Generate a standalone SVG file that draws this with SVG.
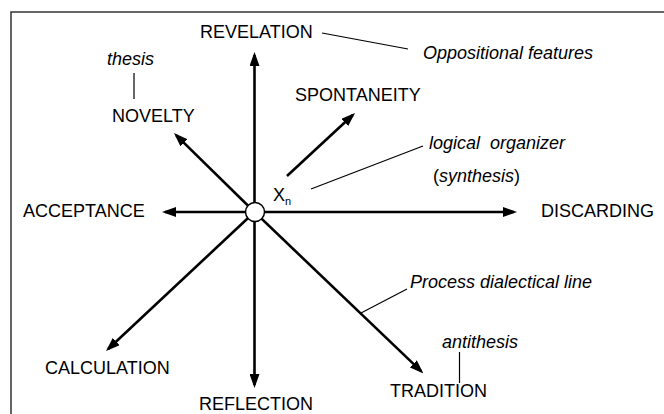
<svg xmlns="http://www.w3.org/2000/svg" width="664" height="414" viewBox="0 0 664 414">
<style>
text{font-family:"Liberation Sans",Arial,sans-serif;font-size:18px;fill:#000}
.it{font-style:italic}
.pre{white-space:pre}
.ar{stroke:#000;stroke-width:2.6;fill:none;marker-end:url(#ah)}
.ld{stroke:#000;stroke-width:1.2;fill:none}
</style>
<defs>
<marker id="ah" viewBox="0 0 14 10" refX="11" refY="5" markerWidth="14" markerHeight="10" markerUnits="userSpaceOnUse" orient="auto">
<path d="M0,0 L14,5 L0,10 Z" fill="#000"/>
</marker>
</defs>
<rect x="11" y="12" width="680" height="440" fill="#fff" stroke="#333" stroke-width="1.5"/>
<g id="connectors">
<line class="ar" x1="254.5" y1="212" x2="254.5" y2="55"/>
<line class="ar" x1="254.5" y1="212" x2="254.5" y2="385"/>
<line class="ar" x1="254.5" y1="212" x2="165" y2="212"/>
<line class="ar" x1="254.5" y1="212" x2="514" y2="212"/>
<line class="ar" x1="254.5" y1="212" x2="176.1" y2="135.1"/>
<line class="ar" x1="254.5" y1="212" x2="108.2" y2="349"/>
<line class="ar" x1="254.5" y1="212" x2="421.3" y2="371.4"/>
<line class="ar" x1="287" y1="176" x2="352.8" y2="115"/>
<line class="ld" x1="322" y1="33" x2="408" y2="49"/>
<line class="ld" x1="311" y1="189" x2="423" y2="146"/>
<line class="ld" x1="361" y1="313" x2="407" y2="289"/>
<line class="ld" x1="134" y1="73" x2="134" y2="99"/>
<line class="ld" x1="459.5" y1="352" x2="459.5" y2="383"/>
</g>
<g id="center">
<circle cx="255" cy="212" r="9.5" fill="#fff" stroke="#000" stroke-width="1.5"/>
<text x="273" y="201">X<tspan font-size="11" dy="4">n</tspan></text>
</g>
<g id="revelation"><text x="200" y="38">REVELATION</text></g>
<g id="oppositional"><text class="it" x="423" y="59">Oppositional features</text></g>
<g id="thesis"><text class="it" x="107" y="65">thesis</text></g>
<g id="novelty"><text x="112" y="122">NOVELTY</text></g>
<g id="spontaneity"><text x="295" y="101">SPONTANEITY</text></g>
<g id="organizer"><text class="it pre" x="429" y="149">logical  organizer</text><text x="433" y="182">(<tspan font-style="italic">synthesis</tspan>)</text></g>
<g id="acceptance"><text x="23" y="217">ACCEPTANCE</text></g>
<g id="discarding"><text x="541" y="217">DISCARDING</text></g>
<g id="process"><text class="it" x="410" y="288">Process dialectical line</text></g>
<g id="antithesis"><text class="it" x="442" y="348">antithesis</text></g>
<g id="calculation"><text x="45" y="374">CALCULATION</text></g>
<g id="tradition"><text x="390" y="397">TRADITION</text></g>
<g id="reflection"><text x="199" y="410">REFLECTION</text></g>
</svg>
